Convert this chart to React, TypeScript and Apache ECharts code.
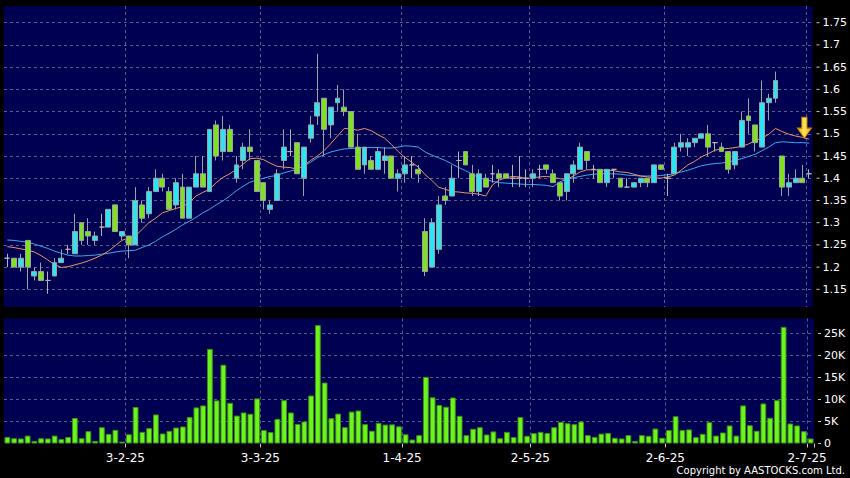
import React, { useEffect, useRef } from 'react';
import * as echarts from 'echarts';

// Trading days per month (2025), day numbers
const janDays = [3, 6, 7, 8, 9, 10, 13, 14, 15, 16, 17, 20, 21, 22, 23, 24, 27, 28];
const febDays = [3, 4, 5, 6, 7, 10, 11, 12, 13, 14, 17, 18, 19, 20, 21, 24, 25, 26, 27, 28];
const marDays = [3, 4, 5, 6, 7, 10, 11, 12, 13, 14, 17, 18, 19, 20, 21, 24, 25, 26, 27, 28, 31];
const aprDays = [1, 2, 3, 7, 8, 9, 10, 11, 14, 15, 16, 17, 22, 23, 24, 25, 28, 29, 30];
const mayDays = [2, 6, 7, 8, 9, 12, 13, 14, 15, 16, 19, 20, 21, 22, 23, 26, 27, 28, 29, 30];
const junDays = [2, 3, 4, 5, 6, 9, 10, 11, 12, 13, 16, 17, 18, 19, 20, 23, 24, 25, 26, 27, 30];
const julDays = [2];

const monthDays = [janDays, febDays, marDays, aprDays, mayDays, junDays, julDays];
const dates: string[] = monthDays.flatMap((days, m) => days.map((d) => `${d}-${m + 1}-25`));

const open = [
  1.22, 1.22, 1.20, 1.26, 1.18, 1.19, 1.17, 1.18, 1.21, 1.24,
  1.23, 1.30, 1.28, 1.26, 1.29, 1.29, 1.34, 1.27, 1.27, 1.25,
  1.34, 1.32, 1.37, 1.40, 1.37, 1.34, 1.38, 1.31, 1.38, 1.41,
  1.37, 1.52, 1.46, 1.51, 1.40, 1.44, 1.47, 1.44, 1.39, 1.33,
  1.35, 1.44, 1.46, 1.48, 1.40, 1.49, 1.54, 1.58, 1.52, 1.57,
  1.56, 1.55, 1.47, 1.43, 1.44, 1.42, 1.44, 1.45, 1.40, 1.41,
  1.43, 1.42, 1.28, 1.20, 1.24, 1.36, 1.36, 1.44, 1.46, 1.41,
  1.37, 1.40, 1.41, 1.41, 1.41, 1.40, 1.40, 1.40, 1.40, 1.42,
  1.43, 1.41, 1.39, 1.37, 1.41, 1.42, 1.46, 1.42, 1.42, 1.39,
  1.42, 1.40, 1.38, 1.38, 1.39, 1.40, 1.39, 1.43, 1.40, 1.41,
  1.47, 1.47, 1.48, 1.49, 1.50, 1.48, 1.47, 1.46, 1.43, 1.47,
  1.54, 1.52, 1.47, 1.57, 1.58, 1.45, 1.38, 1.39, 1.40, 1.41,
];
const close = [
  1.22, 1.20, 1.22, 1.20, 1.19, 1.17, 1.17, 1.21, 1.22, 1.24,
  1.28, 1.26, 1.27, 1.27, 1.29, 1.33, 1.28, 1.28, 1.25, 1.35,
  1.31, 1.37, 1.40, 1.38, 1.33, 1.39, 1.31, 1.38, 1.41, 1.38,
  1.51, 1.45, 1.51, 1.46, 1.43, 1.47, 1.46, 1.37, 1.35, 1.34,
  1.41, 1.47, 1.46, 1.41, 1.47, 1.52, 1.57, 1.51, 1.56, 1.58,
  1.55, 1.47, 1.42, 1.47, 1.42, 1.46, 1.45, 1.40, 1.41, 1.43,
  1.43, 1.41, 1.19, 1.30, 1.34, 1.35, 1.40, 1.44, 1.43, 1.37,
  1.41, 1.38, 1.41, 1.40, 1.40, 1.40, 1.40, 1.40, 1.41, 1.42,
  1.42, 1.39, 1.36, 1.41, 1.43, 1.47, 1.44, 1.42, 1.39, 1.42,
  1.42, 1.38, 1.38, 1.39, 1.40, 1.39, 1.43, 1.42, 1.40, 1.47,
  1.48, 1.48, 1.49, 1.50, 1.47, 1.48, 1.46, 1.42, 1.46, 1.53,
  1.53, 1.48, 1.57, 1.58, 1.62, 1.38, 1.39, 1.40, 1.39, 1.41,
];
const low = [
  1.20, 1.20, 1.19, 1.15, 1.17, 1.17, 1.14, 1.18, 1.21, 1.23,
  1.23, 1.25, 1.25, 1.25, 1.27, 1.29, 1.28, 1.26, 1.22, 1.25,
  1.30, 1.31, 1.37, 1.37, 1.33, 1.33, 1.31, 1.31, 1.38, 1.38,
  1.37, 1.44, 1.44, 1.46, 1.39, 1.42, 1.44, 1.37, 1.33, 1.32,
  1.35, 1.42, 1.45, 1.41, 1.36, 1.48, 1.52, 1.45, 1.49, 1.55,
  1.54, 1.47, 1.42, 1.41, 1.42, 1.42, 1.41, 1.40, 1.37, 1.39,
  1.40, 1.39, 1.18, 1.20, 1.23, 1.34, 1.36, 1.40, 1.43, 1.36,
  1.36, 1.38, 1.39, 1.38, 1.40, 1.38, 1.38, 1.38, 1.38, 1.40,
  1.41, 1.39, 1.35, 1.35, 1.39, 1.42, 1.42, 1.40, 1.39, 1.38,
  1.40, 1.38, 1.38, 1.38, 1.38, 1.38, 1.39, 1.42, 1.36, 1.41,
  1.46, 1.45, 1.47, 1.49, 1.45, 1.46, 1.46, 1.41, 1.42, 1.47,
  1.50, 1.46, 1.47, 1.53, 1.57, 1.36, 1.36, 1.39, 1.39, 1.40,
];
const high = [
  1.23, 1.22, 1.23, 1.26, 1.20, 1.21, 1.19, 1.22, 1.24, 1.25,
  1.32, 1.30, 1.31, 1.28, 1.32, 1.33, 1.34, 1.28, 1.27, 1.38,
  1.35, 1.38, 1.42, 1.41, 1.38, 1.40, 1.41, 1.38, 1.45, 1.45,
  1.51, 1.53, 1.54, 1.52, 1.45, 1.48, 1.51, 1.44, 1.39, 1.35,
  1.42, 1.51, 1.51, 1.48, 1.47, 1.54, 1.68, 1.58, 1.56, 1.61,
  1.60, 1.55, 1.50, 1.47, 1.45, 1.47, 1.47, 1.45, 1.42, 1.45,
  1.45, 1.43, 1.31, 1.31, 1.36, 1.38, 1.43, 1.46, 1.46, 1.43,
  1.42, 1.41, 1.43, 1.42, 1.41, 1.43, 1.45, 1.42, 1.42, 1.43,
  1.43, 1.42, 1.39, 1.41, 1.44, 1.48, 1.46, 1.43, 1.42, 1.42,
  1.42, 1.40, 1.40, 1.39, 1.40, 1.40, 1.43, 1.43, 1.41, 1.48,
  1.50, 1.49, 1.49, 1.50, 1.52, 1.48, 1.48, 1.46, 1.46, 1.55,
  1.58, 1.52, 1.62, 1.59, 1.64, 1.45, 1.41, 1.42, 1.43, 1.42,
];
const volume = [
  1500, 1200, 1150, 1800, 600, 1200, 1150, 1800, 1000, 1500,
  5800, 1200, 2800, 600, 3700, 2200, 3100, 450, 2100, 8300,
  2650, 3500, 6600, 2270, 2880, 3640, 3860, 6000, 8200, 8650,
  21500, 9800, 17900, 9250, 6350, 7050, 6750, 10250, 3050, 2600,
  5600, 9850, 7050, 4450, 5000, 10900, 26900, 13850, 5750, 6800,
  3700, 7250, 7500, 4400, 2900, 4700, 4300, 4350, 3900, 2100,
  900, 1900, 15150, 10500, 8750, 8350, 10450, 6300, 1900, 3350,
  3700, 2050, 2750, 1200, 2650, 1450, 6000, 1750, 2350, 2650,
  2400, 3700, 4900, 4600, 4400, 5000, 1900, 1500, 2250, 2400,
  1300, 1150, 1900, 600, 1900, 1750, 3400, 1300, 3050, 6200,
  3050, 3200, 1450, 2200, 4850, 1800, 2500, 4100, 1800, 8650,
  4150, 2900, 9100, 5850, 9850, 26500, 4550, 4100, 2800, 1150,
];
const ma10 = [
  1.246, 1.244, 1.241, 1.238, 1.234, 1.226, 1.216, 1.206, 1.199, 1.201,
  1.205, 1.209, 1.214, 1.220, 1.227, 1.236, 1.248, 1.260, 1.266, 1.270,
  1.285, 1.300, 1.310, 1.322, 1.327, 1.332, 1.336, 1.345, 1.360, 1.368,
  1.375, 1.390, 1.402, 1.410, 1.420, 1.432, 1.444, 1.445, 1.442, 1.434,
  1.427, 1.425, 1.424, 1.420, 1.428, 1.440, 1.450, 1.462, 1.478, 1.495,
  1.512, 1.511, 1.508, 1.512, 1.507, 1.498, 1.490, 1.476, 1.460, 1.447,
  1.436, 1.425, 1.408, 1.395, 1.380, 1.375, 1.370, 1.369, 1.367, 1.366,
  1.364, 1.360, 1.385, 1.396, 1.401, 1.404, 1.403, 1.399, 1.401, 1.403,
  1.404, 1.402, 1.399, 1.397, 1.405, 1.414, 1.419, 1.419, 1.418, 1.418,
  1.417, 1.414, 1.413, 1.409, 1.405, 1.403, 1.401, 1.400, 1.403, 1.407,
  1.418, 1.430, 1.438, 1.448, 1.455, 1.463, 1.466, 1.467, 1.469, 1.472,
  1.477, 1.485, 1.490, 1.499, 1.512, 1.505, 1.499, 1.495, 1.492, 1.488,
];
const ma20 = [
  1.261, 1.260, 1.258, 1.256, 1.252, 1.247, 1.242, 1.236, 1.231, 1.227,
  1.225, 1.225, 1.226, 1.227, 1.229, 1.231, 1.234, 1.236, 1.237, 1.238,
  1.244, 1.250, 1.258, 1.268, 1.276, 1.285, 1.295, 1.303, 1.312, 1.322,
  1.330, 1.340, 1.349, 1.360, 1.372, 1.382, 1.391, 1.396, 1.400, 1.404,
  1.406, 1.412, 1.416, 1.420, 1.428, 1.436, 1.446, 1.453, 1.459, 1.463,
  1.466, 1.467, 1.468, 1.469, 1.469, 1.469, 1.468, 1.468, 1.470, 1.473,
  1.472, 1.470, 1.459, 1.452, 1.446, 1.440, 1.432, 1.424, 1.417, 1.409,
  1.401, 1.397, 1.393, 1.390, 1.389, 1.388, 1.387, 1.386, 1.386, 1.385,
  1.384, 1.381, 1.392, 1.397, 1.401, 1.404, 1.407, 1.409, 1.410, 1.410,
  1.410, 1.409, 1.407, 1.406, 1.405, 1.405, 1.405, 1.406, 1.408, 1.410,
  1.414, 1.418, 1.423, 1.428, 1.431, 1.433, 1.434, 1.437, 1.440, 1.444,
  1.449, 1.454, 1.462, 1.470, 1.480, 1.482, 1.481, 1.480, 1.480, 1.479,
];

const priceTicks = [1.15, 1.2, 1.25, 1.3, 1.35, 1.4, 1.45, 1.5, 1.55, 1.6, 1.65, 1.7, 1.75];
const volumeTicks = [5000, 10000, 15000, 20000, 25000];
const arrowMark = { index: 118, price: 1.49 };

const FONT = 'DejaVu Sans';
const NAVY = '#000050';
const GRID_LINE = '#5a5a8e';
const UP = '#2ee4f2';
const DOWN = '#7fe21c';
const WICK = '#9aa2a6';
const VOL = '#6cf51c';
const VOL_BORDER = '#3c8f16';

const monthOf = (s: string) => s.split('-')[1];
const isMonthStart = (i: number) => i > 0 && monthOf(dates[i]) !== monthOf(dates[i - 1]);

const priceLabel = (v: number) => {
  const h = Math.round(v * 100);
  if (Math.abs(v * 100 - h) > 1e-6 || h % 5 !== 0) return '';
  return `{t|}{v|${String(h / 100)}}`;
};
const volumeLabel = (v: number) => {
  if (Math.abs(v % 5000) > 1e-6) return '';
  return `{t|}{v|${v === 0 ? '0' : v / 1000 + 'K'}}`;
};
const axisRich = {
  t: { width: 3, height: 1, backgroundColor: '#c8c8c8', verticalAlign: 'middle' },
  v: { padding: [0, 0, 0, 3], color: '#ffffff', fontFamily: FONT, fontSize: 11 },
};

export default function App() {
  const ref = useRef<HTMLDivElement>(null);

  useEffect(() => {
    if (!ref.current) return;
    const chart = echarts.init(ref.current, null, { renderer: 'svg' });
    const candleData = dates.map((_, i) => [open[i], close[i], low[i], high[i]]);
    const gridLineStyle = { color: GRID_LINE, type: [3, 3], width: 1 };

    const option: any = {
      animation: false,
      backgroundColor: '#000000',
      grid: [
        { left: 4, right: 36, top: 6, height: 301, show: true, backgroundColor: NAVY, borderWidth: 0 },
        { left: 4, right: 36, top: 318.5, height: 125, show: true, backgroundColor: NAVY, borderWidth: 0 },
      ],
      xAxis: [
        {
          type: 'category',
          gridIndex: 0,
          data: dates,
          boundaryGap: true,
          axisLine: { show: false },
          axisTick: { show: false },
          axisLabel: { show: false },
          splitLine: { show: true, interval: (i: number) => isMonthStart(i), showMaxLine: false, lineStyle: gridLineStyle },
        },
        {
          type: 'category',
          gridIndex: 1,
          data: dates,
          boundaryGap: true,
          axisLine: { show: false },
          axisTick: {
            show: true,
            interval: (i: number) => isMonthStart(i),
            length: 4,
            lineStyle: { color: '#c8c8c8' },
          },
          axisLabel: {
            show: true,
            interval: (i: number) => isMonthStart(i),
            color: '#ffffff',
            fontFamily: FONT,
            fontSize: 12,
            margin: 8,
            padding: [0, 7, 0, 0],
          },
          splitLine: { show: true, interval: (i: number) => isMonthStart(i), showMaxLine: false, lineStyle: gridLineStyle },
        },
      ],
      yAxis: [
        {
          type: 'value',
          gridIndex: 0,
          position: 'right',
          min: 1.1102,
          max: 1.7876,
          splitNumber: 13,
          axisLine: { show: false },
          axisTick: { show: false },
          splitLine: { show: false },
          axisLabel: { show: true, margin: 4, formatter: priceLabel, rich: axisRich },
        },
        {
          type: 'value',
          gridIndex: 1,
          position: 'right',
          min: 0,
          max: 28400,
          splitNumber: 6,
          axisLine: { show: false },
          axisTick: { show: false },
          splitLine: { show: false },
          axisLabel: { show: true, margin: 4, formatter: volumeLabel, rich: axisRich },
        },
      ],
      series: [
        {
          name: 'MA20',
          type: 'line',
          xAxisIndex: 0,
          yAxisIndex: 0,
          data: ma20,
          symbol: 'none',
          lineStyle: { color: '#44a6ee', width: 1 },
          z: 2,
          markLine: {
            silent: true,
            z: 1,
            symbol: ['none', 'none'],
            label: { show: false },
            lineStyle: gridLineStyle,
            data: priceTicks.map((v) => ({ yAxis: v })),
          },
        },
        {
          name: 'MA10',
          type: 'line',
          xAxisIndex: 0,
          yAxisIndex: 0,
          data: ma10,
          symbol: 'none',
          lineStyle: { color: '#e8956a', width: 1 },
          z: 2,
        },
        {
          name: 'Price',
          type: 'candlestick',
          xAxisIndex: 0,
          yAxisIndex: 0,
          data: candleData,
          barWidth: '80%',
          z: 3,
          itemStyle: {
            color: UP,
            color0: DOWN,
            borderColor: WICK,
            borderColor0: WICK,
            borderColorDoji: '#b4b4b4',
            borderWidth: 1,
          },
          markPoint: {
            silent: true,
            symbol: 'path://M5,0 L11,0 L11,11 L16,11 L8,21 L0,11 L5,11 Z',
            symbolSize: [14, 21],
            symbolOffset: [2, -10.5],
            label: { show: false },
            itemStyle: {
              color: new echarts.graphic.LinearGradient(0, 0, 1, 0, [
                { offset: 0, color: '#f2a900' },
                { offset: 0.5, color: '#ffe45c' },
                { offset: 1, color: '#f2a900' },
              ]),
              borderColor: '#c88400',
              borderWidth: 1,
            },
            data: [{ coord: [dates[arrowMark.index], arrowMark.price] }],
          },
        },
        {
          name: 'Volume',
          type: 'bar',
          xAxisIndex: 1,
          yAxisIndex: 1,
          data: volume,
          barCategoryGap: '14%',
          z: 3,
          itemStyle: { color: VOL, borderColor: VOL_BORDER, borderWidth: 1 },
          markLine: {
            silent: true,
            z: 1,
            symbol: ['none', 'none'],
            label: { show: false },
            lineStyle: gridLineStyle,
            data: volumeTicks.map((v) => ({ yAxis: v })),
          },
        },
      ],
      graphic: [
        {
          type: 'text',
          right: 5,
          top: 465,
          style: {
            text: 'Copyright by AASTOCKS.com Ltd.',
            fill: '#ffffff',
            font: `10px "${FONT}"`,
          },
        },
      ],
    };

    chart.setOption(option);
    return () => chart.dispose();
  }, []);

  return (
    <div style={{ position: 'absolute', left: 0, top: 0, width: 850, height: 478, background: '#000' }}>
      <div ref={ref} style={{ width: 850, height: 478 }} />
    </div>
  );
}
